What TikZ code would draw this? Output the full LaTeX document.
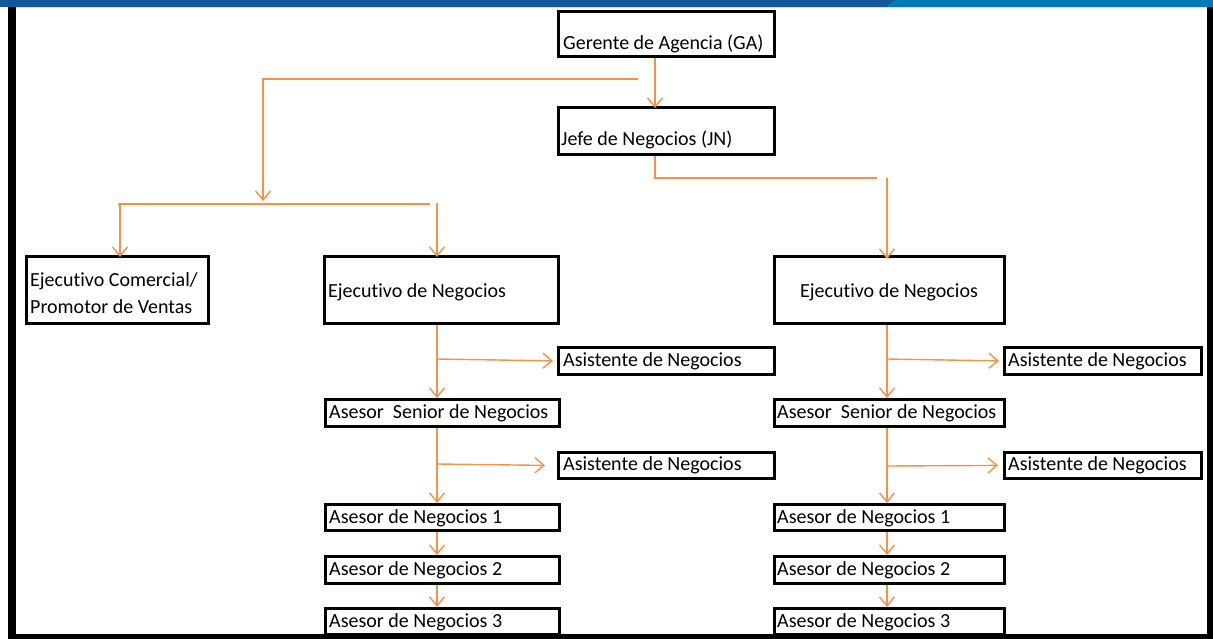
\documentclass[tikz,border=0pt]{standalone}
\usepackage{fontspec}
\setmainfont[Ligatures=NoCommon]{Carlito}
\usetikzlibrary{arrows.meta,calc}
\definecolor{orgline}{RGB}{245,146,72}
\definecolor{bardark}{RGB}{20,87,154}
\definecolor{barlight}{RGB}{0,121,187}
\definecolor{barpale}{RGB}{200,225,242}
\begin{document}
\begin{tikzpicture}[x=1pt,y=-1pt,
  box/.style={draw=black,line width=2.8pt,fill=white,inner sep=0pt,anchor=north west},
  txt/.style={inner sep=0pt,font=\fontsize{20}{27}\selectfont,text=black},
  conn/.style={draw=orgline,line width=1.4pt},
  arr/.style={conn,-{Straight Barb[length=9pt,width=15pt,line width=1.4pt]}}]
\useasboundingbox (0,0) rectangle (1213,639);
% top bar and frame
\fill[bardark] (0,0) -- (897,0) -- (886,7) -- (0,7) -- cycle;
\fill[barlight] (897,0) -- (1213,0) -- (1213,7) -- (886,7) -- cycle;
\fill[barpale] (16,7) rectangle (1207,8);
\fill[black] (8,7) rectangle (16,639);
\fill[black] (1207,7) rectangle (1213,639);
\fill[black] (8,634) rectangle (1213,639);
% boxes
\newcommand{\mkbox}[5]{\node[box,minimum width={#4-#2},minimum height={#5-#3}] (#1) at (#2,#3) {};}
\mkbox{ga}{557}{10}{773}{55}
\mkbox{jn}{557}{106}{773}{153}
\mkbox{ec}{25}{255}{207}{322}
\mkbox{enA}{323}{255}{557}{322}
\mkbox{enB}{773}{255}{1003}{322}
\mkbox{asiA}{557}{346}{773}{373}
\mkbox{asA}{324}{398}{558}{425}
\mkbox{asiB}{557}{451}{773}{477}
\mkbox{anA}{324}{503}{558}{529}
\mkbox{anB}{324}{555}{558}{582}
\mkbox{anC}{324}{607}{558}{633}
\mkbox{asiC}{1003}{346}{1200}{373}
\mkbox{asB}{773}{398}{1003}{425}
\mkbox{asiD}{1003}{451}{1200}{477}
\mkbox{anD}{773}{503}{1003}{529}
\mkbox{anE}{773}{555}{1003}{582}
\mkbox{anF}{773}{607}{1003}{633}
% texts
\node[txt,anchor=base west] (gat) at (563,50) {Gerente de Agencia (GA)};
\node[txt,anchor=base west] (jnt) at (561,146) {Jefe de Negocios (JN)};
\node[txt,anchor=base west] (ect1) at (30,286) {Ejecutivo Comercial/};
\node[txt,anchor=base west] (ect2) at (30,313) {Promotor de Ventas};
\node[txt,anchor=base west] (enAt) at (328,297) {Ejecutivo de Negocios};
\node[txt,anchor=base] (enBt) at (889,297) {Ejecutivo de Negocios};
\node[txt,anchor=base west] (asiAt) at (563,366) {Asistente de Negocios};
\node[txt,anchor=base west] (asAt) at (329,418) {Asesor\ \ Senior de Negocios};
\node[txt,anchor=base west] (asiBt) at (563,470) {Asistente de Negocios};
\node[txt,anchor=base west] (anAt) at (329,523) {Asesor de Negocios 1};
\node[txt,anchor=base west] (anBt) at (329,575) {Asesor de Negocios 2};
\node[txt,anchor=base west] (anCt) at (329,627) {Asesor de Negocios 3};
\node[txt,anchor=base west] (asiCt) at (1008,366) {Asistente de Negocios};
\node[txt,anchor=base west] (asBt) at (777,418) {Asesor\ \ Senior de Negocios};
\node[txt,anchor=base west] (asiDt) at (1008,470) {Asistente de Negocios};
\node[txt,anchor=base west] (anDt) at (777,523) {Asesor de Negocios 1};
\node[txt,anchor=base west] (anEt) at (777,575) {Asesor de Negocios 2};
\node[txt,anchor=base west] (anFt) at (777,627) {Asesor de Negocios 3};
% junction coordinates
\coordinate (gaX) at ([xshift=98pt]ga.south west);
\coordinate (jnX) at ([xshift=98pt]jn.north west);
\coordinate (t1) at (638,79);
\coordinate (t2) at (263,79);
\coordinate (t3) at (263,201);
\coordinate (h1) at (118,204);
\coordinate (h2) at (430,204);
\coordinate (hL) at (120,204);
\coordinate (hR) at (437,203);
\coordinate (jb) at ([xshift=98pt]jn.south west);
\coordinate (jc) at (877,178);
\coordinate (jd) at (887,178);
\coordinate (lx) at (437,0);
\coordinate (rx) at (887,0);
% connectors
\draw[arr] (gaX) -- ([yshift=-2pt]jnX);
\draw[arr] (t1) -- (t2) -- (t3);
\draw[conn] (h1) -- (h2);
\draw[arr] (hL) -- ([yshift=-2pt]hL |- ec.north);
\draw[arr] (hR) -- ([yshift=-2pt]hR |- enA.north);
\draw[conn] (jb) |- (jc);
\draw[arr] (jd) -- ([yshift=-4pt]jd |- enB.north);
% left column
\draw[arr] (lx |- enA.south) -- (lx |- asA.north);
\draw[arr] (437,359) -- ([xshift=-4pt]asiA.west);
\draw[arr] (lx |- asA.south) -- (lx |- anA.north);
\draw[arr] (437,464) -- ([xshift=-12pt]asiB.west);
\draw[arr] (lx |- anA.south) -- (lx |- anB.north);
\draw[arr] (lx |- anB.south) -- (lx |- anC.north);
% right column
\draw[arr] (rx |- enB.south) -- (rx |- asB.north);
\draw[arr] (887,359) -- ([xshift=-4pt]asiC.west);
\draw[arr] (rx |- asB.south) -- (rx |- anD.north);
\draw[arr] (887,466) -- ([xshift=-5pt]asiD.west);
\draw[arr] (rx |- anD.south) -- (rx |- anE.north);
\draw[arr] (rx |- anE.south) -- (rx |- anF.north);
\end{tikzpicture}
\end{document}
